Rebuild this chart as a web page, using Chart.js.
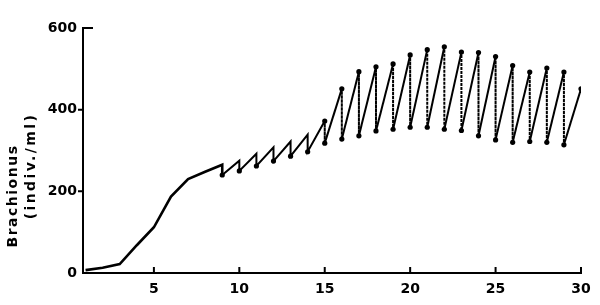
<!DOCTYPE html>
<html>
<head>
<meta charset="utf-8">
<script src="https://cdn.jsdelivr.net/npm/chart.js@4.4.1/dist/chart.umd.min.js"></script>
<style>
  html, body { margin: 0; padding: 0; background: #fff; }
  #wrap { width: 600px; height: 305px; position: relative; }
</style>
</head>
<body>
<div id="wrap"><canvas id="rotifer-chart"></canvas></div>
<script>
// Batch growth before the first harvest (days 1-9)
const growthDays = [1, 2, 3, 4, 5, 6, 7, 8, 9];
const growth = [7, 13, 22, 68, 112, 187, 230, 248, 265];

// Daily harvest: density just before harvest (days 10-30)
const highDays = [10, 11, 12, 13, 14, 15, 16, 17, 18, 19, 20, 21, 22, 23, 24, 25, 26, 27, 28, 29, 30];
const highs = [275, 292, 308, 322, 339, 372, 451, 493, 505, 512, 534, 547, 554, 541, 540, 530, 508, 492, 502, 492, 451];

// Density just after harvest (days 9-29)
const lowDays = [9, 10, 11, 12, 13, 14, 15, 16, 17, 18, 19, 20, 21, 22, 23, 24, 25, 26, 27, 28, 29];
const lows = [240, 250, 262, 274, 286, 297, 318, 328, 336, 348, 352, 357, 357, 352, 349, 336, 326, 320, 322, 320, 314];

const xTicks = [5, 10, 15, 20, 25, 30];
const yTicks = [0, 200, 400, 600];

// build the path: growth curve, then low(d) -> high(d+1) -> low(d+1) ...
const path = growthDays.map((d, i) => ({ x: d, y: growth[i], kind: 'growth' }));
lowDays.forEach((d, i) => {
  path.push({ x: d, y: lows[i], kind: 'low' });
  path.push({ x: highDays[i], y: highs[i], kind: 'high' });
});

const tickFont = { family: 'DejaVu Sans', size: 14, weight: 'bold' };

// draws inward x ticks, y ticks and the two-line y title
const axisDecor = {
  id: 'axisDecor',
  afterDraw(chart) {
    const { ctx, scales: { x, y } } = chart;
    ctx.save();
    ctx.strokeStyle = '#000';
    ctx.lineWidth = 2;
    ctx.beginPath();
    xTicks.forEach(v => {
      const px = x.getPixelForValue(v);
      ctx.moveTo(px, y.bottom);
      ctx.lineTo(px, y.bottom - 6);
    });
    yTicks.forEach(v => {
      if (v === 0) return;
      const py = y.getPixelForValue(v);
      const x0 = x.left;
      ctx.moveTo(x0, py);
      ctx.lineTo(v === 600 ? x0 + 10 : x0 - 5, py);
    });
    ctx.stroke();

    // axis title, two rotated lines
    ctx.fillStyle = '#000';
    ctx.font = 'bold 14px "DejaVu Sans"';
    ctx.textAlign = 'center';
    ctx.textBaseline = 'middle';
    ctx.save();
    ctx.translate(13, 196);
    ctx.rotate(-Math.PI / 2);
    ctx.letterSpacing = '1.5px';
    ctx.fillText('Brachionus', 0, 0);
    ctx.restore();
    ctx.translate(31, 166);
    ctx.rotate(-Math.PI / 2);
    ctx.letterSpacing = '2.4px';
    ctx.fillText('(indiv./ml)', 0, 0);
    ctx.restore();
  },
};

const ctx = document.getElementById('rotifer-chart');

const chart = new Chart(ctx, {
  type: 'line',
  data: {
    datasets: [
      {
        label: 'Brachionus',
        data: path,
        borderColor: '#000',
        backgroundColor: '#000',
        borderWidth: 2,
        tension: 0,
        pointBorderWidth: 0,
        pointRadius: (c) => {
          const p = c.raw;
          if (!p || p.kind === 'growth') return 0;
          if (p.kind === 'high' && p.x < 15) return 0;
          return 2.6;
        },
        segment: {
          // harvest drops from day 15 on are dotted
          borderDash: (s) => (s.p0.parsed.x === s.p1.parsed.x && s.p0.parsed.x >= 15 ? [2, 2] : undefined),
          borderWidth: (s) => (s.p1.parsed.x <= 9 ? 2.6 : 2),
        },
      },
    ],
  },
  options: {
    responsive: true,
    maintainAspectRatio: false,
    animation: false,
    layout: {
      padding: { top: 28, right: 19, left: 0, bottom: 0 },
    },
    scales: {
      x: {
        type: 'linear',
        min: 0.85,
        max: 30,
        afterBuildTicks: (scale) => { scale.ticks = xTicks.map(v => ({ value: v })); },
        afterFit: (scale) => { scale.height = 32; },
        grid: { display: false, drawTicks: false },
        border: { display: true, color: '#000', width: 2 },
        ticks: { color: '#000', font: tickFont, padding: 8, maxRotation: 0 },
      },
      y: {
        min: 0,
        max: 600,
        afterBuildTicks: (scale) => { scale.ticks = yTicks.map(v => ({ value: v })); },
        afterFit: (scale) => { scale.width = 83; },
        grid: { display: false, drawTicks: false },
        border: { display: true, color: '#000', width: 2 },
        ticks: { color: '#000', font: tickFont, padding: 6 },
      },
    },
    plugins: {
      legend: { display: false },
      tooltip: { enabled: false },
    },
  },
  plugins: [axisDecor],
});
</script>
</body>
</html>
